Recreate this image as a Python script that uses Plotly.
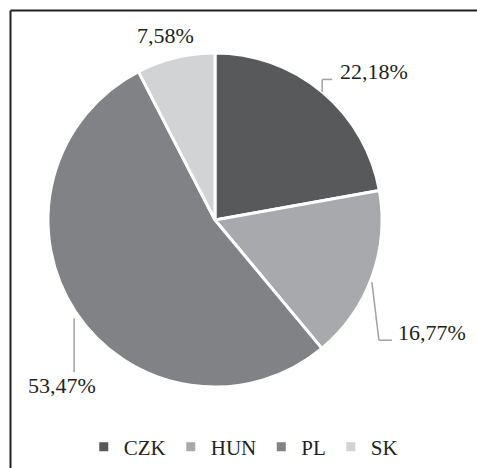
import math
import plotly.graph_objs as go

# shares of each country (percent)
labels = ['CZK', 'HUN', 'PL', 'SK']
values = [22.18, 16.77, 53.47, 7.58]
text_labels = ['22,18%', '16,77%', '53,47%', '7,58%']
colors = ['#58595b', '#a7a9ac', '#808285', '#d1d3d4']

W, H = 477, 468
cx, cy, r = 215, 220, 167  # pie centre / radius in pixels

# label placement relative to the slice mid-point on the rim (pixels)
# leader: offsets for the leader polyline, lab: offset of the label
label_style = {
    'CZK': dict(leader=[(0, 0), (0, -12.5), (10, -12.5)], lab=(16, -20), xanchor='left'),
    'HUN': dict(leader=[(0, 5), (7, 63), (20, 63)], lab=(24, 55), xanchor='left'),
    'PL': dict(leader=[(-1.7, 6), (-1.7, 60)], lab=(-14, 73), xanchor='center'),
    'SK': dict(leader=[], lab=(-10, -22), xanchor='center'),
}


def px(x, y):
    return x / W, 1 - y / H


fig = go.Figure()
fig.add_trace(go.Pie(
    labels=labels, values=values, sort=False, direction='clockwise', rotation=0,
    marker=dict(colors=colors, line=dict(color='white', width=3)),
    textinfo='none', hoverinfo='none',
    domain=dict(x=[(cx - r) / W, (cx + r) / W], y=[1 - (cy + r) / H, 1 - (cy - r) / H]),
))

shapes = []
annotations = []
total = sum(values)
cum = 0
for lab, val, txt in zip(labels, values, text_labels):
    mid = (cum + val / 2) / total * 2 * math.pi
    cum += val
    sx = cx + r * math.sin(mid)
    sy = cy - r * math.cos(mid)
    st = label_style[lab]
    pts = [(sx + dx, sy + dy) for dx, dy in st['leader']]
    for (x0, y0), (x1, y1) in zip(pts[:-1], pts[1:]):
        a = px(x0, y0)
        b = px(x1, y1)
        shapes.append(dict(type='line', xref='paper', yref='paper', x0=a[0], y0=a[1], x1=b[0], y1=b[1],
                           line=dict(color='#a0a2a5', width=1.5)))
    lx, ly = px(sx + st['lab'][0], sy + st['lab'][1])
    annotations.append(dict(x=lx, y=ly, xref='paper', yref='paper', text=txt, showarrow=False,
                            xanchor=st['xanchor'], yanchor='middle',
                            font=dict(size=22, color='#231f20', family='Liberation Serif')))

# frame (top and left edge)
shapes.append(dict(type='line', xref='paper', yref='paper', x0=10.5 / W, y0=1 - 10.5 / H, x1=1, y1=1 - 10.5 / H,
                   line=dict(color='#231f20', width=2)))
shapes.append(dict(type='line', xref='paper', yref='paper', x0=10.5 / W, y0=1 - 10.5 / H, x1=10.5 / W, y1=0,
                   line=dict(color='#231f20', width=2)))

fig.update_layout(
    width=W, height=H,
    margin=dict(l=0, r=0, t=0, b=0),
    paper_bgcolor='white', plot_bgcolor='white',
    font=dict(family='Liberation Serif', color='#231f20'),
    shapes=shapes, annotations=annotations,
    showlegend=True,
    legend=dict(orientation='h', x=0.51, xanchor='center', y=1 - 447 / H, yanchor='middle',
                font=dict(size=21, color='#231f20'), itemwidth=30, traceorder='normal'),
)

# the page body has a default 8px margin; drop it so the figure fills the window
fig.write_html("out.html", config={'displayModeBar': False},
               post_script="document.body.style.margin='0';")
